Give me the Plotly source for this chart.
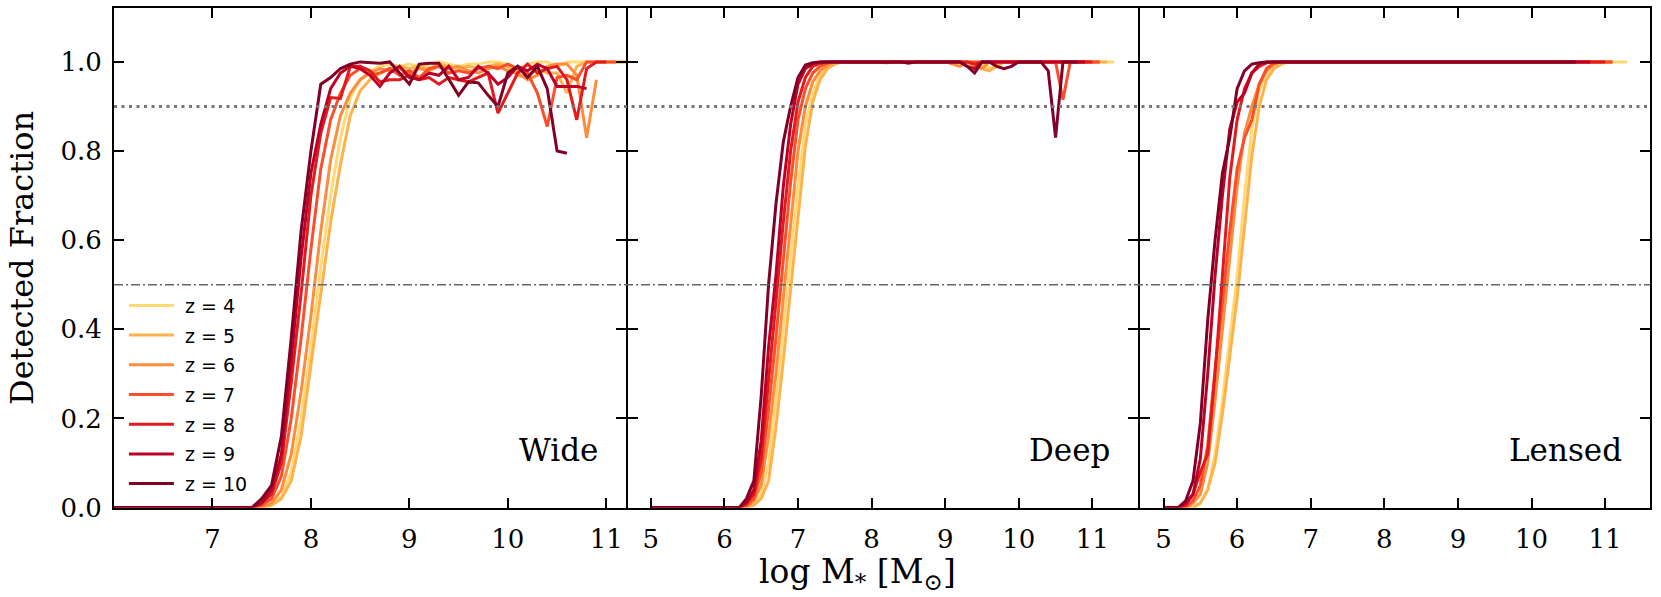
import plotly.graph_objects as go

W, H = 1661, 597

redshifts = [4, 5, 6, 7, 8, 9, 10]
colors = ["#fed976", "#feb24c", "#fd8d3c", "#fc4e2a", "#e31a1c", "#bd0026", "#800026"]
surveys = ["Wide", "Deep", "Lensed"]
levels = [0.9, 0.5]  # 90% and 50% completeness

# log stellar mass bin centres
mass_wide = [6.0, 6.1, 6.2, 6.3, 6.4, 6.5, 6.6, 6.7, 6.8, 6.9,
             7.0, 7.1, 7.2, 7.3, 7.4, 7.5, 7.6, 7.7, 7.8, 7.9,
             8.0, 8.1, 8.2, 8.3, 8.4, 8.5, 8.6, 8.7, 8.8, 8.9,
             9.0, 9.1, 9.2, 9.3, 9.4, 9.5, 9.6, 9.7, 9.8, 9.9,
             10.0, 10.1, 10.2, 10.3, 10.4, 10.5, 10.6, 10.7, 10.8, 10.9,
             11.0, 11.1, 11.2, 11.3]
mass_deep = [5.0, 5.1, 5.2, 5.3, 5.4, 5.5, 5.6, 5.7, 5.8, 5.9] + mass_wide
mass_lensed = mass_deep

# detected fraction, Wide survey (from 6.0)
wide_z4 = [0, 0, 0, 0, 0, 0, 0, 0, 0, 0,
           0, 0, 0, 0, 0, 0, .005, .025, .08, .2,
           .36, .54, .70, .83, .92, .96, .98, .99, .995, .99,
           .995, .99, .995, 1, .995, .99, .995, .995, 1, 1,
           .995, .98, .995, 1, 1, .99, 1, 1, 1, 1,
           1, 1, 1, 1]
wide_z5 = [0, 0, 0, 0, 0, 0, 0, 0, 0, 0,
           0, 0, 0, 0, 0, 0, .005, .02, .06, .16,
           .32, .48, .64, .77, .88, .935, .96, .975, .985, .99,
           .985, .99, .985, .995, .99, .985, .99, .985, .99, .995,
           .99, .97, .965, .985, .975, .975, .93, .99, 1, 1,
           1, 1, 1]
wide_z6 = [0, 0, 0, 0, 0, 0, 0, 0, 0, 0,
           0, 0, 0, 0, 0, 0, .01, .04, .12, .26,
           .43, .62, .78, .88, .93, .96, .975, .985, .98, .985,
           .975, .985, .98, .99, .985, .99, .98, .975, .985, .99,
           .98, .975, .96, .97, .99, .995, .995, .97, .83, .96]
wide_z7 = [0, 0, 0, 0, 0, 0, 0, 0, 0, 0,
           0, 0, 0, 0, 0, .005, .02, .07, .20, .38,
           .58, .76, .87, .93, .97, .985, .97, .975, .985, .97,
           .98, .965, .985, .99, .975, .98, .975, .985, .99, .985,
           .995, .985, .975, .93, .855, .965, .97, .96, 1, 1,
           1, 1]
wide_z8 = [0, 0, 0, 0, 0, 0, 0, 0, 0, 0,
           0, 0, 0, 0, 0, .01, .03, .10, .28, .48,
           .70, .84, .92, .918, .99, .99, .98, .955, .96, .96,
           .97, .96, .965, .95, .965, .96, .955, .965, .975, .885,
           .93, .975, .995, .975, .985, .99, .96, .87, .985, 1,
           1]
wide_z9 = [0, 0, 0, 0, 0, 0, 0, 0, 0, 0,
           0, 0, 0, 0, 0, .01, .04, .12, .33, .56,
           .75, .86, .94, .975, .99, .985, .97, .945, .975, .99,
           .965, .96, .975, .97, .99, .96, .965, .99, .975, .95,
           .965, .99, .98, .995, .985, .945, .945, .945, .94]
wide_z10 = [0, 0, 0, 0, 0, 0, 0, 0, 0, 0,
            0, 0, 0, 0, 0, .02, .05, .16, .38, .62,
            .80, .95, .965, .985, .995, 1, .998, .997, 1, .975,
            .95, .995, .997, .997, .96, .925, .955, .953, .925, .90,
            .975, .99, .965, .99, .94, .80, .795]

# Deep survey (from 5.0)
deep_z4 = [0, 0, 0, 0, 0, 0, 0, 0, 0, 0,
           0, 0, 0, 0, .01, .03, .10, .24, .40, .56,
           .72, .86, .93, .97, .99, .997, 1, 1, 1, 1,
           1, 1, 1, 1, 1, 1, 1, 1, 1, 1,
           1, 1, 1, 1, 1, .995, .985, .995, 1, 1,
           1, 1, 1, 1, 1, 1, 1, 1, 1, 1,
           1, 1, 1, 1]
deep_z5 = [0, 0, 0, 0, 0, 0, 0, 0, 0, 0,
           0, 0, 0, 0, .005, .02, .06, .18, .33, .49,
           .66, .81, .91, .96, .985, .995, 1, 1, 1, 1,
           1, 1, 1, 1, 1, 1, 1, 1, 1, 1,
           1, 1, 1, 1, .995, .985, .98, .99, 1, 1,
           1, 1, 1, 1, 1, 1, 1, 1, 1, 1,
           1, 1, 1]
deep_z6 = [0, 0, 0, 0, 0, 0, 0, 0, 0, 0,
           0, 0, 0, 0, .015, .05, .16, .30, .47, .64,
           .80, .90, .955, .98, .993, 1, 1, 1, 1, 1,
           1, 1, 1, 1, 1, 1, 1, 1, 1, 1,
           1, .995, .99, 1, .99, .985, 1, 1, 1, 1,
           1, 1, 1, 1, 1, 1, 1, 1, 1, 1,
           1, 1]
deep_z7 = [0, 0, 0, 0, 0, 0, 0, 0, 0, 0,
           0, 0, 0, .005, .02, .08, .22, .38, .56, .73,
           .87, .94, .975, .99, .998, 1, 1, 1, 1, 1,
           1, 1, 1, 1, 1, 1, 1, 1, 1, 1,
           1, 1, 1, 1, 1, 1, 1, 1, 1, 1,
           1, 1, 1, 1, 1, 1, .915, 1, 1, 1,
           1, 1]
deep_z8 = [0, 0, 0, 0, 0, 0, 0, 0, 0, 0,
           0, 0, 0, .01, .03, .11, .28, .46, .64, .80,
           .91, .965, .99, .997, 1, 1, 1, 1, 1, 1,
           1, 1, .998, 1, 1, 1, 1, 1, 1, 1,
           1, 1, 1, 1, .995, 1, 1, 1, 1, 1,
           1, 1, 1, 1, 1, 1, 1, 1, 1, 1,
           1]
deep_z9 = [0, 0, 0, 0, 0, 0, 0, 0, 0, 0,
           0, 0, 0, .01, .04, .15, .36, .52, .72, .86,
           .95, .985, .995, 1, 1, 1, 1, 1, 1, 1,
           1, 1, 1, 1, 1, 1, 1, 1, 1, 1,
           1, 1, 1, .99, .985, 1, 1, 1, 1, 1,
           1, 1, 1, 1, 1, 1, 1, 1, 1, 1]
deep_z10 = [0, 0, 0, 0, 0, 0, 0, 0, 0, 0,
            0, 0, 0, .02, .06, .25, .50, .68, .82, .90,
            .965, .993, .998, 1, 1, 1, 1, 1, 1, 1,
            1, 1, 1, 1, 1, .997, 1, 1, 1, 1,
            1, 1, 1, .99, .975, 1, 1, .99, .985, .99,
            1, 1, 1, 1, .98, .83, 1, 1, 1]

# Lensed survey (from 5.0)
lensed_z4 = [0, 0, 0, 0, 0, .01, .04, .12, .24, .38,
             .52, .70, .85, .935, .975, .99, .998, 1, 1, 1,
             1, 1, 1, 1, 1, 1, 1, 1, 1, 1,
             1, 1, 1, 1, 1, 1, 1, 1, 1, 1,
             1, 1, 1, 1, 1, 1, 1, 1, 1, 1,
             1, 1, 1, 1, 1, 1, 1, 1, 1, 1,
             1, 1, 1, 1]
lensed_z5 = [0, 0, 0, 0, 0, .01, .04, .10, .21, .34,
             .47, .63, .79, .90, .96, .985, .995, 1, 1, 1,
             1, 1, 1, 1, 1, 1, 1, 1, 1, 1,
             1, 1, 1, 1, 1, 1, 1, 1, 1, 1,
             1, 1, 1, 1, 1, 1, 1, 1, 1, 1,
             1, 1, 1, 1, 1, 1, 1, 1, 1, 1,
             1, 1]
lensed_z6 = [0, 0, 0, 0, .01, .03, .10, .24, .40, .56,
             .72, .84, .90, .95, .98, .995, 1, 1, 1, 1,
             1, 1, 1, 1, 1, 1, 1, 1, 1, 1,
             1, 1, 1, 1, 1, 1, 1, 1, 1, 1,
             1, 1, 1, 1, 1, 1, 1, 1, 1, 1,
             1, 1, 1, 1, 1, 1, 1, 1, 1, 1,
             1, 1]
lensed_z7 = [0, 0, 0, 0, .015, .05, .14, .31, .46, .62,
             .76, .83, .87, .95, .985, .997, 1, 1, 1, 1,
             1, 1, 1, 1, 1, 1, 1, 1, 1, 1,
             1, 1, 1, 1, 1, 1, 1, 1, 1, 1,
             1, 1, 1, 1, 1, 1, 1, 1, 1, 1,
             1, 1, 1, 1, 1, 1, 1, 1, 1, 1,
             1, 1]
lensed_z8 = [0, 0, 0, .005, .03, .08, .12, .30, .53, .74,
             .87, .94, .975, .99, .998, 1, 1, 1, 1, 1,
             1, 1, 1, 1, 1, 1, 1, 1, 1, 1,
             1, 1, 1, 1, 1, 1, 1, 1, 1, 1,
             1, 1, 1, 1, 1, 1, 1, 1, 1, 1,
             1, 1, 1, 1, 1, 1, 1, 1, 1, 1,
             1]
lensed_z9 = [0, 0, 0, .01, .03, .11, .30, .52, .70, .85,
             .91, .93, .975, .995, 1, 1, 1, 1, 1, 1,
             1, 1, 1, 1, 1, 1, 1, 1, 1, 1,
             1, 1, 1, 1, 1, 1, 1, 1, 1, 1,
             1, 1, 1, 1, 1, 1, 1, 1, 1, 1,
             1, 1, 1, 1, 1, 1, 1, 1, 1]
lensed_z10 = [0, 0, 0, .015, .06, .19, .42, .60, .75, .83,
              .94, .98, .995, .998, 1, 1, 1, 1, 1, 1,
              1, 1, 1, 1, 1, 1, 1, 1, 1, 1,
              1, 1, 1, 1, 1, 1, 1, 1, 1, 1,
              1, 1, 1, 1, 1, 1, 1, 1, 1, 1,
              1, 1, 1, 1, 1, 1, 1]

panels = [
    (mass_wide, [wide_z4, wide_z5, wide_z6, wide_z7, wide_z8, wide_z9, wide_z10]),
    (mass_deep, [deep_z4, deep_z5, deep_z6, deep_z7, deep_z8, deep_z9, deep_z10]),
    (mass_lensed, [lensed_z4, lensed_z5, lensed_z6, lensed_z7, lensed_z8, lensed_z9, lensed_z10]),
]
xranges = [[6.0, 11.2], [4.69, 11.62], [4.68, 11.61]]
xticks = [[7, 8, 9, 10, 11], [5, 6, 7, 8, 9, 10, 11], [5, 6, 7, 8, 9, 10, 11]]
yticks = [0, 0.2, 0.4, 0.6, 0.8, 1.0]

# panel edges in pixels (neighbouring frames share one line)
doms_px = [(114, 626), (628, 1138), (1140, 1650)]
top_px, bot_px = 8.4, 507.6
ydom = [1 - bot_px / H, 1 - top_px / H]

serif = "DejaVu Serif"
tick_font = dict(family=serif, size=26, color="black")

fig = go.Figure()

for p, (mass, curves) in enumerate(panels):
    suffix = "" if p == 0 else str(p + 1)
    for z, c, frac in zip(redshifts, colors, curves):
        fig.add_trace(go.Scatter(
            x=mass[:len(frac)], y=frac, mode="lines",
            name=f"&nbsp;z = {z}", legendgroup=f"z{z}", showlegend=(p == 0),
            line=dict(color=c, width=3),
            xaxis="x" + suffix, yaxis="y" + suffix,
        ))

fig.update_layout(
    width=W, height=H,
    margin=dict(l=0, r=0, t=0, b=0),
    paper_bgcolor="white", plot_bgcolor="white",
    font=dict(family=serif, size=24, color="black"),
    showlegend=True,
    legend=dict(
        x=0.0746, y=0.520, xanchor="left", yanchor="top",
        bgcolor="rgba(0,0,0,0)", tracegroupgap=2, itemwidth=45,
        font=dict(family="DejaVu Sans", size=19, color="black"),
    ),
)

for p in range(3):
    suffix = "" if p == 0 else str(p + 1)
    common = dict(
        showline=True, linecolor="black", linewidth=2, mirror="allticks",
        ticks="inside", ticklen=10, tickwidth=2, tickcolor="black",
        showgrid=False, zeroline=False, automargin=False, tickfont=tick_font,
    )
    fig.update_layout({
        "xaxis" + suffix: dict(
            common, domain=[doms_px[p][0] / W, doms_px[p][1] / W],
            range=xranges[p], tickmode="array", tickvals=xticks[p],
            ticktext=[str(t) for t in xticks[p]],
            anchor="y" + suffix, ticklabelstandoff=7,
        ),
        "yaxis" + suffix: dict(
            common, domain=ydom, range=[0, 1.12],
            tickmode="array", tickvals=yticks,
            ticktext=[f"{t:.1f}" for t in yticks],
            showticklabels=(p == 0), anchor="x" + suffix, ticklabelstandoff=5,
        ),
    })

# completeness reference lines across all panels
dashes = ["3px,4.5px", "9px,3px,2px,3px"]
widths = [3, 1.6]
lcolors = ["#777777", "#666666"]
for lev, d, w, lc in zip(levels, dashes, widths, lcolors):
    fig.add_shape(type="line", xref="paper", yref="y",
                  x0=doms_px[0][0] / W, x1=doms_px[2][1] / W, y0=lev, y1=lev,
                  line=dict(color=lc, width=w, dash=d), layer="above")

# survey labels
for p, name in enumerate(surveys):
    fig.add_annotation(text=name, xref="paper", yref="paper",
                       x=(doms_px[p][1] - 26) / W, y=1 - 450 / H,
                       xanchor="right", yanchor="middle", showarrow=False,
                       font=dict(family=serif, size=31, color="black"))

fig.add_annotation(text="log M<sub>*</sub> [M<sub>⊙</sub>]", xref="paper", yref="paper",
                   x=857 / W, y=1 - 573 / H, xanchor="center", yanchor="middle",
                   showarrow=False, font=dict(family=serif, size=33, color="black"))
fig.add_annotation(text="Detected Fraction", xref="paper", yref="paper",
                   x=22 / W, y=1 - 258 / H, textangle=-90,
                   xanchor="center", yanchor="middle", showarrow=False,
                   font=dict(family=serif, size=32, color="black"))

# drop the page's default body margin so the fixed-size figure sits at 0,0
fig.write_html("out.html", config={"displayModeBar": False},
               post_script="document.body.style.margin='0';document.body.style.overflow='hidden';")
